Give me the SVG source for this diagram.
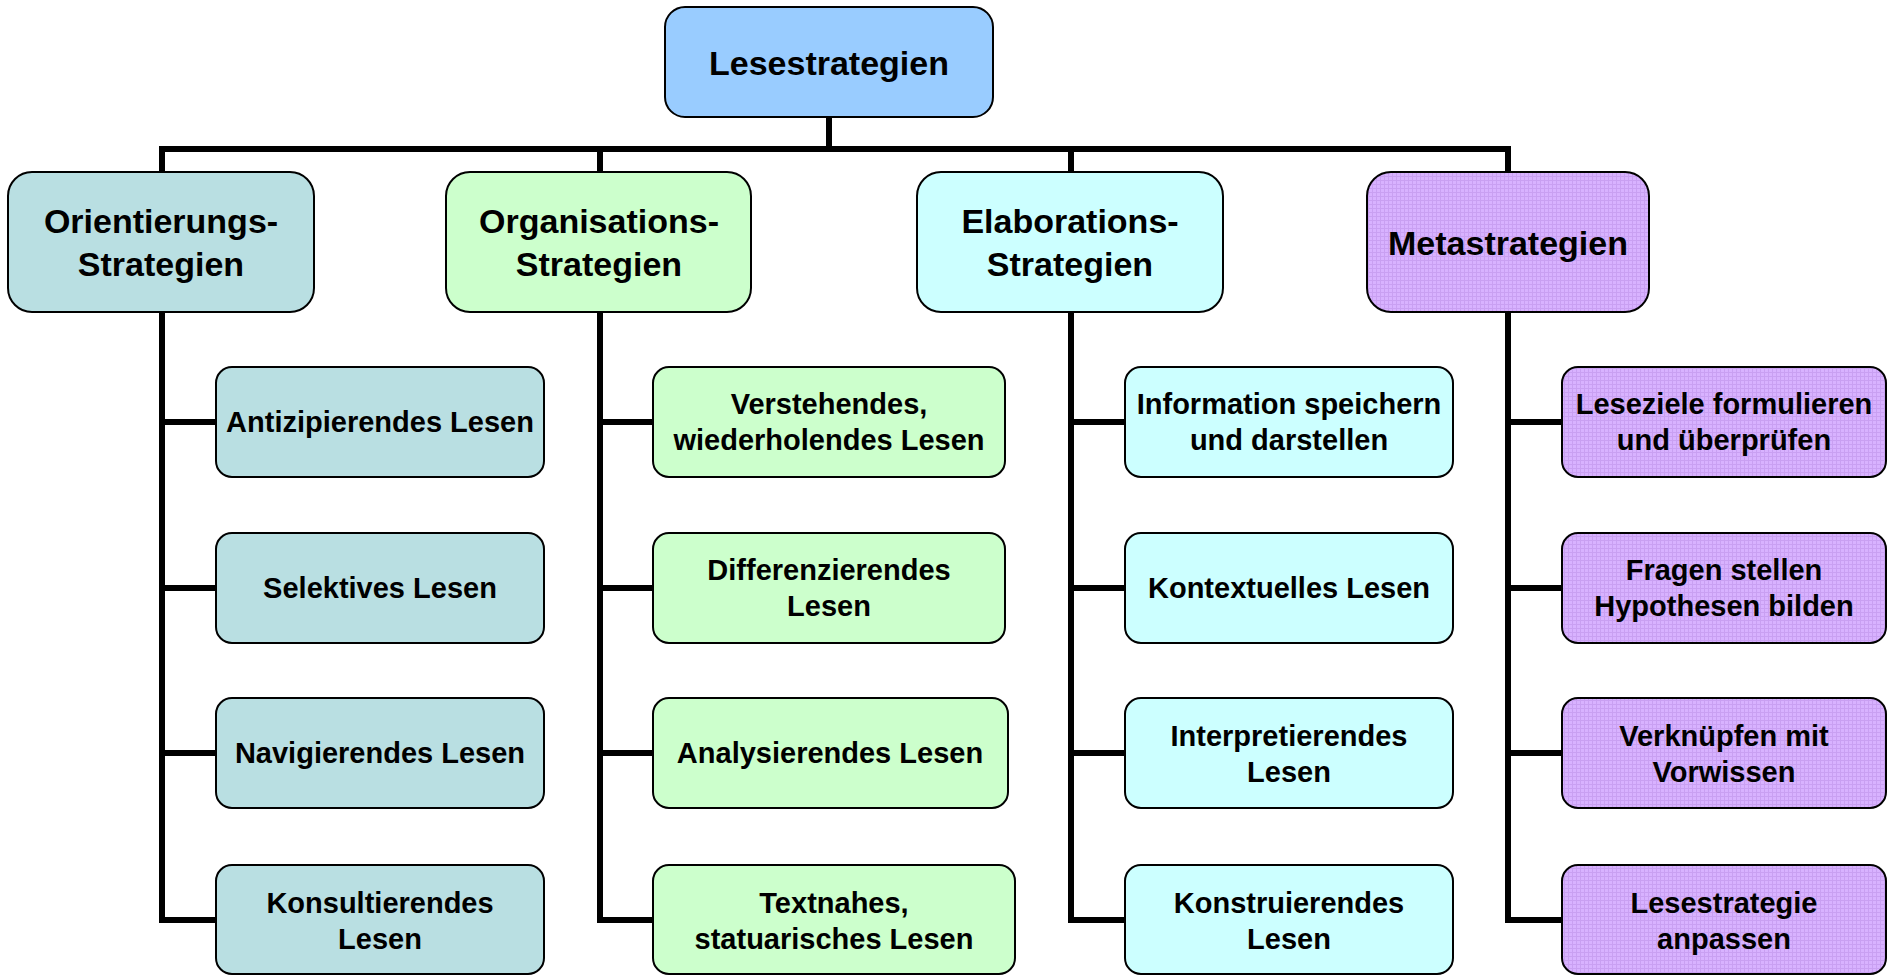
<svg xmlns="http://www.w3.org/2000/svg" width="1889" height="975" viewBox="0 0 1889 975">
<defs>
<pattern id="purp" width="4" height="4" patternUnits="userSpaceOnUse">
<rect width="4" height="4" fill="#D8B2FF"/>
<path d="M0 0.5H4M0.5 0V4" stroke="#C9A0F2" stroke-width="1"/>
</pattern>
</defs>
<style>
.box{stroke:#000;stroke-width:2}
.t{font-family:"Liberation Sans",Arial,sans-serif;font-weight:bold;fill:#000;text-anchor:middle}
.t2{font-size:34px}
.t3{font-size:29px}
.root{fill:#99CCFF}
.c1{fill:#B9DFE2}
.c2{fill:#CCFFCC}
.c3{fill:#CCFFFF}
.c4{fill:url(#purp)}
.conn line{stroke:#000;stroke-width:6;fill:none}
</style>
<rect width="1889" height="975" fill="#fff"/>
<g id="connectors" class="conn">
<line x1="829" y1="116" x2="829" y2="152"/>
<line x1="159" y1="149" x2="1511" y2="149"/>
<line x1="162" y1="149" x2="162" y2="173"/>
<line x1="600" y1="149" x2="600" y2="173"/>
<line x1="1071" y1="149" x2="1071" y2="173"/>
<line x1="1508" y1="149" x2="1508" y2="173"/>
<line x1="162" y1="311" x2="162" y2="923"/>
<line x1="600" y1="311" x2="600" y2="923"/>
<line x1="1071" y1="311" x2="1071" y2="923"/>
<line x1="1508" y1="311" x2="1508" y2="923"/>
<line x1="159" y1="422" x2="217" y2="422"/>
<line x1="159" y1="588" x2="217" y2="588"/>
<line x1="159" y1="753" x2="217" y2="753"/>
<line x1="159" y1="920" x2="217" y2="920"/>
<line x1="597" y1="422" x2="654" y2="422"/>
<line x1="597" y1="588" x2="654" y2="588"/>
<line x1="597" y1="753" x2="654" y2="753"/>
<line x1="597" y1="920" x2="654" y2="920"/>
<line x1="1068" y1="422" x2="1126" y2="422"/>
<line x1="1068" y1="588" x2="1126" y2="588"/>
<line x1="1068" y1="753" x2="1126" y2="753"/>
<line x1="1068" y1="920" x2="1126" y2="920"/>
<line x1="1505" y1="422" x2="1563" y2="422"/>
<line x1="1505" y1="588" x2="1563" y2="588"/>
<line x1="1505" y1="753" x2="1563" y2="753"/>
<line x1="1505" y1="920" x2="1563" y2="920"/>
</g>
<g id="root">
<rect class="box root" x="665" y="7" width="328" height="110" rx="20"/>
<text class="t t2" x="829" y="75">Lesestrategien</text>
</g>
<g id="orientierung">
<rect class="box c1" x="8" y="172" width="306" height="140" rx="24"/>
<text class="t t2" x="161" y="233">Orientierungs-</text>
<text class="t t2" x="161" y="276">Strategien</text>
</g>
<g id="organisation">
<rect class="box c2" x="446" y="172" width="305" height="140" rx="24"/>
<text class="t t2" x="599" y="233">Organisations-</text>
<text class="t t2" x="599" y="276">Strategien</text>
</g>
<g id="elaboration">
<rect class="box c3" x="917" y="172" width="306" height="140" rx="24"/>
<text class="t t2" x="1070" y="233">Elaborations-</text>
<text class="t t2" x="1070" y="276">Strategien</text>
</g>
<g id="meta">
<rect class="box c4" x="1367" y="172" width="282" height="140" rx="24"/>
<text class="t t2" x="1508" y="255">Metastrategien</text>
</g>
<g id="antizipierend">
<rect class="box c1" x="216" y="367" width="328" height="110" rx="16"/>
<text class="t t3" x="380" y="432">Antizipierendes Lesen</text>
</g>
<g id="selektiv">
<rect class="box c1" x="216" y="533" width="328" height="110" rx="16"/>
<text class="t t3" x="380" y="598">Selektives Lesen</text>
</g>
<g id="navigierend">
<rect class="box c1" x="216" y="698" width="328" height="110" rx="16"/>
<text class="t t3" x="380" y="763">Navigierendes Lesen</text>
</g>
<g id="konsultierend">
<rect class="box c1" x="216" y="865" width="328" height="109" rx="16"/>
<text class="t t3" x="380" y="913">Konsultierendes</text>
<text class="t t3" x="380" y="949">Lesen</text>
</g>
<g id="verstehend">
<rect class="box c2" x="653" y="367" width="352" height="110" rx="16"/>
<text class="t t3" x="829" y="414">Verstehendes,</text>
<text class="t t3" x="829" y="450">wiederholendes Lesen</text>
</g>
<g id="differenzierend">
<rect class="box c2" x="653" y="533" width="352" height="110" rx="16"/>
<text class="t t3" x="829" y="580">Differenzierendes</text>
<text class="t t3" x="829" y="616">Lesen</text>
</g>
<g id="analysierend">
<rect class="box c2" x="653" y="698" width="355" height="110" rx="16"/>
<text class="t t3" x="830" y="763">Analysierendes Lesen</text>
</g>
<g id="textnah">
<rect class="box c2" x="653" y="865" width="362" height="109" rx="16"/>
<text class="t t3" x="834" y="913">Textnahes,</text>
<text class="t t3" x="834" y="949">statuarisches Lesen</text>
</g>
<g id="information">
<rect class="box c3" x="1125" y="367" width="328" height="110" rx="16"/>
<text class="t t3" x="1289" y="414">Information speichern</text>
<text class="t t3" x="1289" y="450">und darstellen</text>
</g>
<g id="kontextuell">
<rect class="box c3" x="1125" y="533" width="328" height="110" rx="16"/>
<text class="t t3" x="1289" y="598">Kontextuelles Lesen</text>
</g>
<g id="interpretierend">
<rect class="box c3" x="1125" y="698" width="328" height="110" rx="16"/>
<text class="t t3" x="1289" y="746">Interpretierendes</text>
<text class="t t3" x="1289" y="782">Lesen</text>
</g>
<g id="konstruierend">
<rect class="box c3" x="1125" y="865" width="328" height="109" rx="16"/>
<text class="t t3" x="1289" y="913">Konstruierendes</text>
<text class="t t3" x="1289" y="949">Lesen</text>
</g>
<g id="leseziele">
<rect class="box c4" x="1562" y="367" width="324" height="110" rx="16"/>
<text class="t t3" x="1724" y="414">Leseziele formulieren</text>
<text class="t t3" x="1724" y="450">und überprüfen</text>
</g>
<g id="fragen">
<rect class="box c4" x="1562" y="533" width="324" height="110" rx="16"/>
<text class="t t3" x="1724" y="580">Fragen stellen</text>
<text class="t t3" x="1724" y="616">Hypothesen bilden</text>
</g>
<g id="verknuepfen">
<rect class="box c4" x="1562" y="698" width="324" height="110" rx="16"/>
<text class="t t3" x="1724" y="746">Verknüpfen mit</text>
<text class="t t3" x="1724" y="782">Vorwissen</text>
</g>
<g id="anpassen">
<rect class="box c4" x="1562" y="865" width="324" height="109" rx="16"/>
<text class="t t3" x="1724" y="913">Lesestrategie</text>
<text class="t t3" x="1724" y="949">anpassen</text>
</g>
</svg>
